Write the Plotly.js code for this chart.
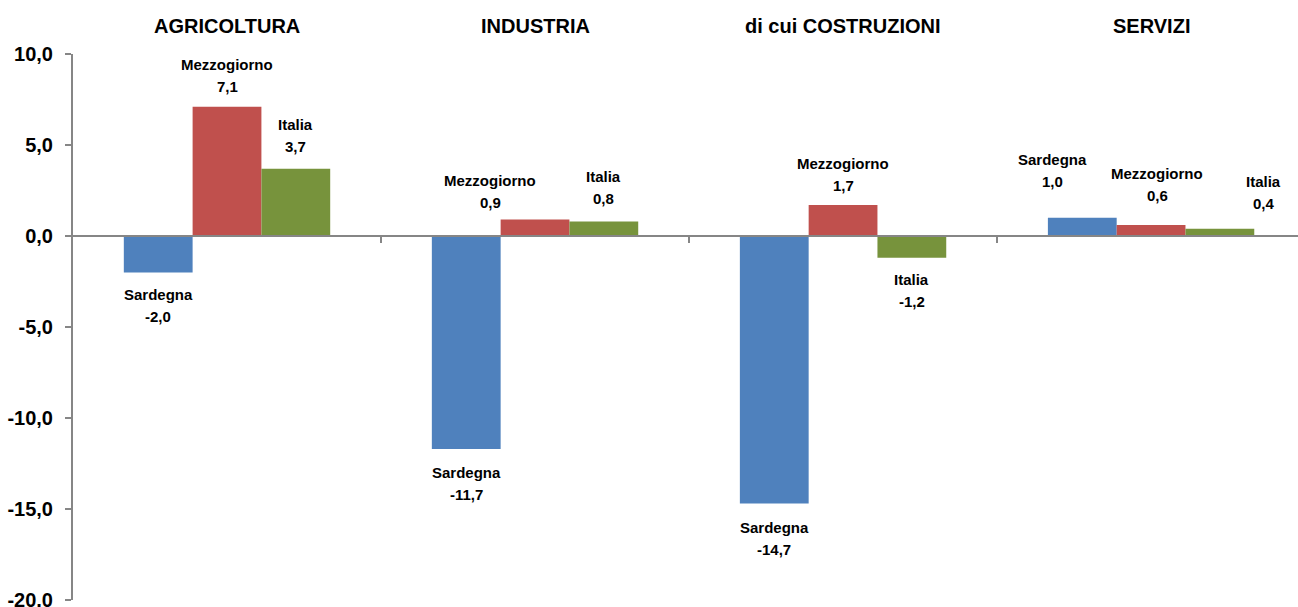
<!DOCTYPE html>
<html>
<head>
<meta charset="utf-8">
<script src="https://cdn.plot.ly/plotly-3.0.1.min.js"></script>
<style>
  html, body { margin: 0; padding: 0; background: #ffffff; overflow: hidden; }
  #chart { width: 1298px; height: 607px; }
</style>
</head>
<body>
<div id="chart"></div>
<script>
// ---- data ----
const categories = ["AGRICOLTURA", "INDUSTRIA", "di cui COSTRUZIONI", "SERVIZI"];
const seriesNames = ["Sardegna", "Mezzogiorno", "Italia"];
const sardegna    = [-2.0, -11.7, -14.7, 1.0];
const mezzogiorno = [7.1, 0.9, 1.7, 0.6];
const italia      = [3.7, 0.8, -1.2, 0.4];
const yTickVals   = [-20, -15, -10, -5, 0, 5, 10];

// ---- style ----
const colors = ["#4F81BD", "#C0504D", "#77933C"];
const FONT = "'Liberation Sans', Arial, sans-serif";
const values = [sardegna, mezzogiorno, italia];
const xIdx = categories.map((c, i) => i);
const fmt = v => v.toFixed(1).replace('.', ',');

const bargap = 0.33;
const barW = (1 - bargap) / 3;

// label placement tweaks (pixels), keyed "series-category"
const labelGap = { pos: 10, neg: -13 };
const labelNudge = {
  "0-0": { dy: -1 },
  "2-0": { dy: 2 },
  "1-1": { dx: -45, dy: -3 },
  "2-1": { dy: 2 },
  "1-2": { dy: -1 },
  "2-2": { dy: -2 },
  "0-3": { dx: -30, dy: 16 },
  "1-3": { dx: 6, dy: 9 },
  "2-3": { dx: 44, dy: 5 }
};
const LINE = 22;

const traces = values.map((vals, s) => ({
  type: 'bar',
  name: seriesNames[s],
  x: xIdx,
  y: vals,
  marker: { color: colors[s], line: { width: 0 } },
  hoverinfo: 'skip'
}));

const labelFont = { family: FONT, size: 15, color: '#000000' };
const annotations = [];
categories.forEach((c, i) => {
  annotations.push({
    x: i, xref: 'x', y: 1, yref: 'paper',
    yanchor: 'middle', yshift: 28,
    text: '<b>' + c + '</b>', showarrow: false,
    font: { family: FONT, size: 20, color: '#000000' }
  });
});
values.forEach((vals, s) => {
  vals.forEach((v, i) => {
    const pos = v >= 0;
    const n = labelNudge[s + '-' + i] || {};
    const dx = n.dx || 0, dy = n.dy || 0;
    const base = pos ? labelGap.pos + dy : labelGap.neg - dy;
    const xv = i + (s - 1) * barW;
    const lines = pos
      ? [{ t: fmt(v), sh: base }, { t: seriesNames[s], sh: base + LINE }]
      : [{ t: seriesNames[s], sh: base }, { t: fmt(v), sh: base - LINE }];
    lines.forEach(l => {
      annotations.push({
        x: xv, xref: 'x', y: v, yref: 'y',
        yanchor: pos ? 'bottom' : 'top',
        xshift: dx, yshift: l.sh,
        text: '<b>' + l.t + '</b>',
        showarrow: false, font: labelFont
      });
    });
  });
});

const layout = {
  width: 1298, height: 607,
  margin: { l: 73, r: 0, t: 54, b: 7 },
  paper_bgcolor: '#ffffff', plot_bgcolor: '#ffffff',
  separators: ',.',
  showlegend: false,
  barmode: 'group', bargap: bargap, bargroupgap: 0,
  font: { family: FONT, color: '#000000' },
  xaxis: {
    range: [-0.5, 3.477],
    anchor: 'free', position: 20 / 30,
    showline: true, linecolor: '#868686', linewidth: 2,
    tickvals: [0.5, 1.5, 2.5],
    ticks: 'outside', ticklen: 6, tickwidth: 2, tickcolor: '#868686',
    showticklabels: false, showgrid: false, zeroline: false,
    fixedrange: true
  },
  yaxis: {
    range: [-20, 10],
    tickvals: yTickVals,
    ticktext: yTickVals.map(fmt),
    ticks: 'outside', ticklen: 6, tickwidth: 2, tickcolor: '#868686',
    ticklabelstandoff: 8,
    ticklabeloverflow: 'allow',
    showline: true, linecolor: '#868686', linewidth: 2,
    showgrid: false, zeroline: false,
    tickfont: { family: FONT, size: 20, color: '#000000', weight: 'bold' },
    fixedrange: true
  },
  annotations: annotations
};

Plotly.newPlot('chart', traces, layout, { displayModeBar: false, staticPlot: true });
</script>
</body>
</html>
